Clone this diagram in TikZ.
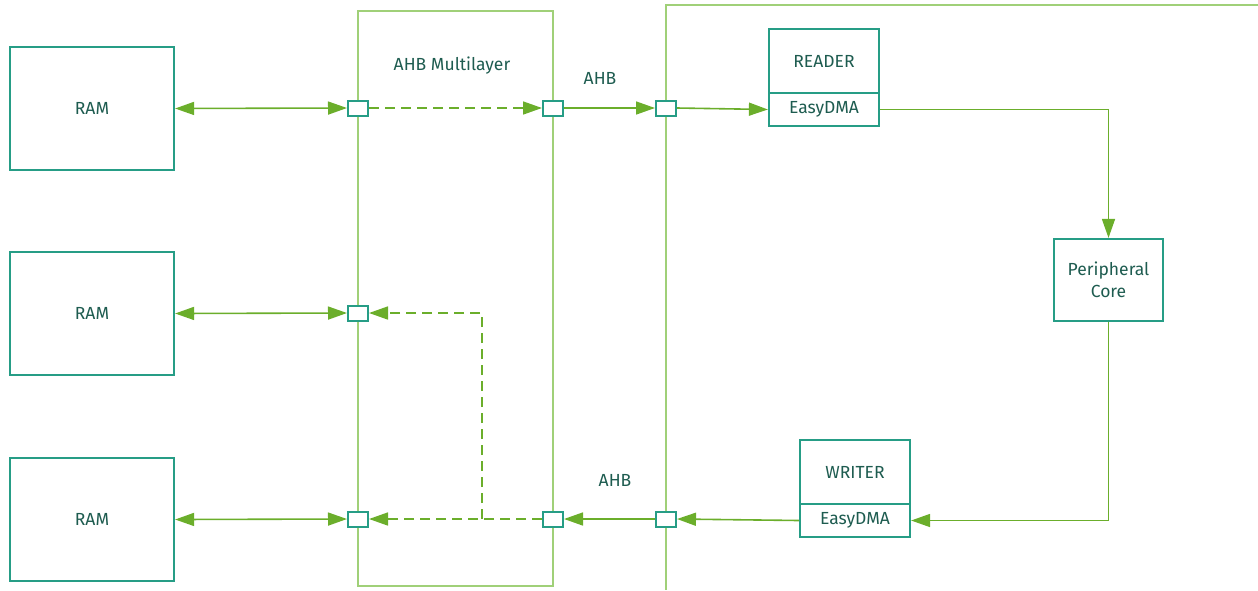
\documentclass[tikz,border=0pt]{standalone}
\usepackage{fontspec}
\setmainfont{Fira Sans}
\usetikzlibrary{arrows.meta}
\definecolor{boxc}{RGB}{38,157,134}
\definecolor{arrc}{RGB}{107,174,43}
\definecolor{busc}{RGB}{160,208,120}
\definecolor{txtc}{RGB}{30,92,80}
\begin{document}
\begin{tikzpicture}[x=1pt,y=-1pt,
  lbl/.style={text=txtc, font=\fontsize{17.5}{22}\selectfont, inner sep=0, align=center},
  blk/.style={lbl, draw=boxc, line width=2.2, fill=white},
  port/.style={draw=boxc, line width=2, fill=white, minimum width=20, minimum height=15, inner sep=0},
  bus/.style={draw=busc, line width=1.8},
  tip/.tip={Triangle[length=19,width=13]},
  link/.style={draw=arrc, line width=1.6, -tip},
  biw/.style={draw=arrc, line width=1.6, tip-tip},
  dlink/.style={link, dash pattern=on 10pt off 6pt}]
\useasboundingbox (0,0) rectangle (1258,590);

% bus structures
\draw[bus] (358,11) rectangle (553,586);
\draw[bus] (1258,5) -- (666,5) -- (666,590);

% memories
\node[blk, minimum width=164, minimum height=123] (ram1) at (92,108.5) {RAM};
\node[blk, minimum width=164, minimum height=123] (ram2) at (92,313.5) {RAM};
\node[blk, minimum width=164, minimum height=123] (ram3) at (92,519.5) {RAM};

% peripheral blocks
\node[blk, minimum width=110, minimum height=64] (rd) at (824,61) {READER};
\node[blk, minimum width=110, minimum height=33] (rdma) at (824,109.5) {EasyDMA};
\node[blk, minimum width=110, minimum height=64] (wr) at (855,472) {WRITER};
\node[blk, minimum width=110, minimum height=33] (wdma) at (855,520.5) {EasyDMA};
\node[blk, minimum width=109, minimum height=82] (core) at (1108.5,280) {Peripheral\\Core};

% labels
\node[lbl] (ml) at (452,66) {AHB Multilayer};
\node[lbl] (ahb1) at (600,78) {AHB};
\node[lbl] (ahb2) at (615,480) {AHB};

% bus ports
\node[port] (p1a) at (358,108) {};
\node[port] (p1b) at (553,108) {};
\node[port] (p1c) at (666,108) {};
\node[port] (p2a) at (358,313) {};
\node[port] (p3a) at (358,519) {};
\node[port] (p3b) at (553,519) {};
\node[port] (p3c) at (666,519) {};
\coordinate (j) at (482,519);

% connections
\draw[biw] (ram1.east) -- (p1a.west);
\draw[biw] (ram2.east) -- (p2a.west);
\draw[biw] (ram3.east) -- (p3a.west);
\draw[dlink] (p1a.east) -- (p1b.west);
\draw[link] (p1b.east) -- (p1c.west);
\draw[link] (p1c.east) -- (rdma.west);
\draw[link] (rdma.east) -| (core.north);
\draw[link] (core.south) |- (wdma.east);
\draw[link] (wdma.west) -- (p3c.east);
\draw[link] (p3c.west) -- (p3b.east);
\draw[dlink] (p3b.west) -- (p3a.east);
\draw[dlink] (j) |- (p2a.east);
\end{tikzpicture}
\end{document}
